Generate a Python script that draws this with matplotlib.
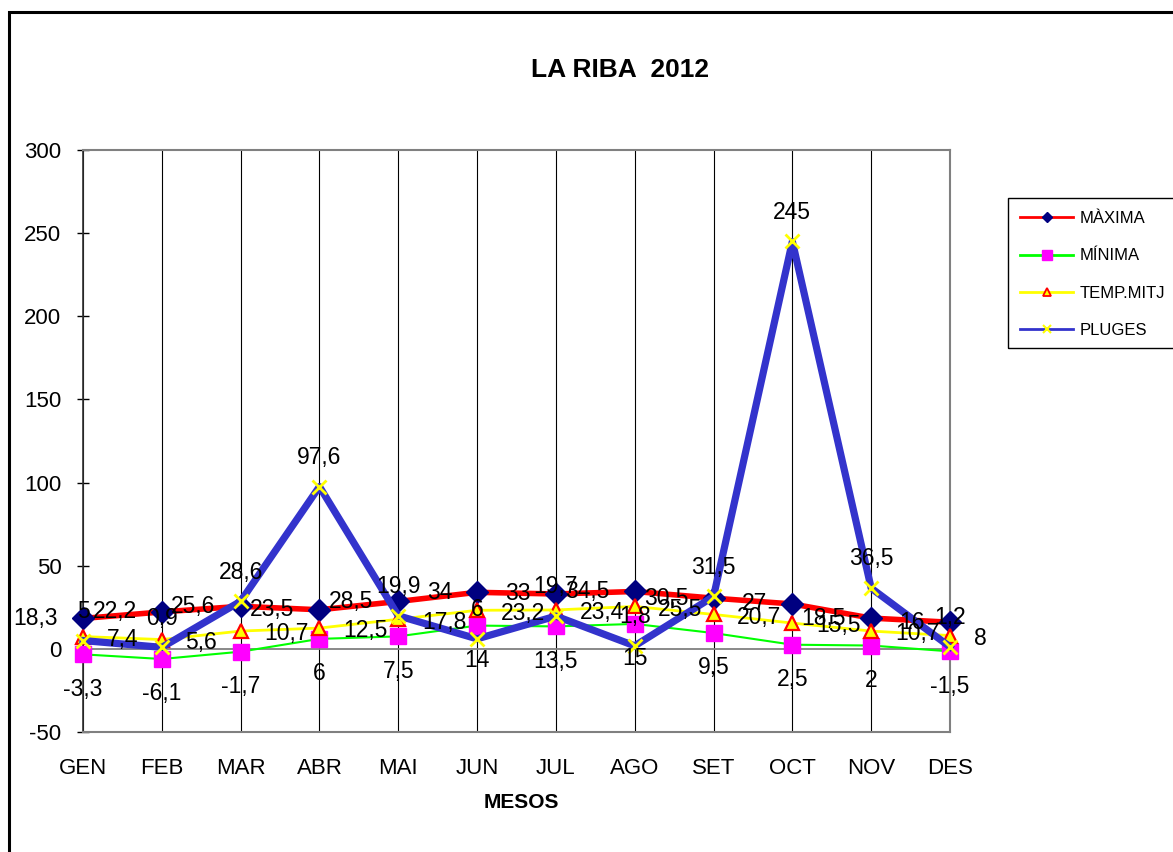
import matplotlib
matplotlib.use("Agg")
import matplotlib.pyplot as plt
from matplotlib.lines import Line2D
from matplotlib.patches import Rectangle

plt.rcParams['font.family'] = ['Liberation Sans', 'DejaVu Sans']

months = ["GEN", "FEB", "MAR", "ABR", "MAI", "JUN", "JUL", "AGO", "SET", "OCT", "NOV", "DES"]
maxima = [18.3, 22.2, 25.6, 23.5, 28.5, 34, 33, 34.5, 30.5, 27, 18.5, 16]
minima = [-3.3, -6.1, -1.7, 6, 7.5, 14, 13.5, 15, 9.5, 2.5, 2, -1.5]
temp_mitj = [7.4, 5.6, 10.7, 12.5, 17.8, 23.2, 23.4, 25.5, 20.7, 15.5, 10.7, 8]
pluges = [5, 0.9, 28.6, 97.6, 19.9, 6, 19.7, 1.8, 31.5, 245, 36.5, 1.2]
yticks = [-50, 0, 50, 100, 150, 200, 250, 300]

W, H = 1173, 852
fig = plt.figure(figsize=(W / 100, H / 100), dpi=100)
ax = fig.add_axes([83 / W, 1 - 732 / H, (950 - 83) / W, (732 - 150) / H])

x = list(range(len(months)))

ax.plot(x, maxima, color='#FF0000', lw=4, marker='D', ms=11,
        mfc='#000080', mec='#000080', zorder=3, clip_on=False)
ax.plot(x, minima, color='#00FF00', lw=1.5, marker='s', ms=11,
        mfc='#FF00FF', mec='#FF00FF', zorder=3, clip_on=False)
ax.plot(x, temp_mitj, color='#FFFF00', lw=2, marker='^', ms=10,
        mfc='#FFFF00', mec='#FF0000', mew=1.6, zorder=3, clip_on=False)
ax.plot(x, pluges, color='#3333CC', lw=5.2, marker='x', ms=10,
        mec='#FFFF00', mew=2, zorder=3, clip_on=False)

def fmt(v):
    return f"{v:g}".replace('.', ',')

lab_fs = 16.5
for xi, v in zip(x, maxima):
    ax.annotate(fmt(v), (xi, v), xytext=(-18, 0), textcoords='offset points',
                ha='right', va='center', fontsize=lab_fs, zorder=5)
for xi, v in zip(x, minima):
    ax.annotate(fmt(v), (xi, v), xytext=(0, -25), textcoords='offset points',
                ha='center', va='center', fontsize=lab_fs, zorder=5)
for xi, v in zip(x, temp_mitj):
    ax.annotate(fmt(v), (xi, v), xytext=(17, -2), textcoords='offset points',
                ha='left', va='center', fontsize=lab_fs, zorder=5)
for xi, v in zip(x, pluges):
    ax.annotate(fmt(v), (xi, v), xytext=(0, 21), textcoords='offset points',
                ha='center', va='center', fontsize=lab_fs, zorder=5)

ax.set_xlim(0, len(months) - 1)
ax.set_ylim(-50, 300)
ax.set_yticks(yticks)
ax.set_yticklabels([str(t) for t in yticks])
ax.set_xticks(x)
ax.set_xticklabels(months)
ax.tick_params(axis='y', direction='inout', length=9, width=1, color='black',
               labelsize=16, pad=11)
ax.tick_params(axis='x', length=0, labelsize=16, pad=19)
ax.xaxis.grid(True, color='black', lw=0.8)
ax.set_axisbelow(True)
ax.axhline(0, color='#808080', lw=1.3, zorder=1.5)
for s in ['top', 'right', 'bottom']:
    ax.spines[s].set_color('#808080')
    ax.spines[s].set_linewidth(1.5)
ax.spines['left'].set_color('#303030')
ax.spines['left'].set_linewidth(1.2)

fig.text(521 / W, 1 - 802 / H, "MESOS", ha='center', va='center',
         fontsize=15, fontweight='bold')
fig.text(620 / W, 1 - 70 / H, "LA RIBA  2012", ha='center', va='center',
         fontsize=19, fontweight='bold')

# outer chart frame
fig.patches.append(Rectangle((9 / W, -0.1), 1.2, 1 - 12 / H + 0.1,
                             transform=fig.transFigure, fill=False,
                             ec='black', lw=2.2, zorder=0))

# legend
handles = [
    Line2D([], [], color='#FF0000', lw=2, marker='D', ms=5, mfc='#000080', mec='#000080'),
    Line2D([], [], color='#00FF00', lw=2, marker='s', ms=7, mfc='#FF00FF', mec='#FF00FF'),
    Line2D([], [], color='#FFFF00', lw=2, marker='^', ms=6, mfc='#FFFF00', mec='#FF0000', mew=1.3),
    Line2D([], [], color='#3333CC', lw=2, marker='x', ms=6, mec='#FFFF00', mew=1.5),
]
labels = ["MÀXIMA", "MÍNIMA", "TEMP.MITJ", "PLUGES"]
fig.legend(handles, labels, loc='upper left',
           bbox_to_anchor=(1020 / W, 1 - 211 / H), frameon=False,
           fontsize=12, handlelength=3.2, handletextpad=0.35,
           labelspacing=1.34, borderpad=0, borderaxespad=0)
fig.patches.append(Rectangle((1008 / W, 1 - 348 / H), 0.2, 150 / H,
                             transform=fig.transFigure, fill=False,
                             ec='black', lw=1, zorder=0))

fig.savefig("out.png", dpi=100)
